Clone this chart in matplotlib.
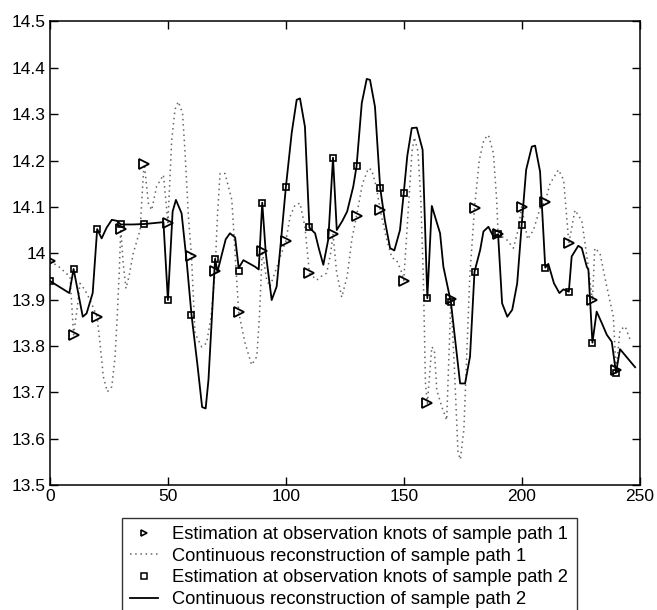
import matplotlib
matplotlib.use('Agg')
import matplotlib.pyplot as plt
import numpy as np

plt.rcParams['font.family'] = ['Liberation Sans', 'DejaVu Sans']

# knots
knots = np.arange(0, 250, 10)

# estimation at knots, sample path 1 (triangles)
est1 = [13.983, 13.824, 13.862, 14.053, 14.192, 14.066, 13.993, 13.962, 13.873,
        14.005, 14.026, 13.957, 14.042, 14.081, 14.093, 13.941, 13.676, 13.901,
        14.097, 14.041, 14.100, 14.111, 14.021, 13.898, 13.747]

# estimation at knots, sample path 2 (squares)
est2 = [13.940, 13.966, 14.052, 14.062, 14.063, 13.899, 13.867, 13.988, 13.962,
        14.109, 14.142, 14.057, 14.206, 14.188, 14.141, 14.130, 13.903, 13.894,
        13.960, 14.041, 14.061, 13.969, 13.917, 13.807, 13.742]

# continuous reconstruction, path 1 (dotted)
t1 = [0, 4, 8.5, 10, 11.5, 12.7, 14.8, 17, 20, 21.2, 22.6, 24.3, 26.2, 27.6, 28.5,
      29.4, 30, 31, 32.2, 33.5, 35.3, 38.2, 39.6, 40, 41.7, 43.1, 45.2, 48.1, 49,
      50, 51.6, 53, 54.4, 56.2, 57.2, 58.7, 60, 61.5, 64.3, 66.4, 68.3, 70, 71,
      72.1, 74.2, 77.1, 78.5, 80, 82.7, 85.5, 87.7, 88.8, 89.5, 90, 91.9, 93.3,
      95.5, 97.5, 100, 101.8, 103.9, 106, 108.1, 110, 113.1, 115, 117.3, 119, 120,
      121.5, 123.7, 126, 128, 130, 132.5, 135, 136.4, 138.5, 140, 142.8, 145, 147,
      149, 150, 152, 153.5, 154.5, 156, 157.2, 158.3, 159.2, 160, 161.9, 163, 164,
      166.1, 168.2, 170, 171.5, 173, 174, 175.5, 176.5, 178, 180, 182, 184, 185.9,
      188, 189.4, 190, 193.7, 196.5, 198.5, 200, 202.5, 205, 208, 210, 212, 215.6,
      217.8, 220, 222.6, 225.5, 228, 230, 231, 233.2, 236, 238.9, 240, 241.7,
      243.9, 246]
v1 = [13.983, 13.97, 13.949, 13.824, 13.88, 13.935, 13.921, 13.899, 13.862, 13.806,
      13.734, 13.701, 13.712, 13.777, 13.863, 13.964, 14.053, 13.98, 13.924, 13.95,
      14.0, 14.05, 14.172, 14.192, 14.108, 14.093, 14.144, 14.169, 14.12, 14.066,
      14.244, 14.31, 14.327, 14.302, 14.223, 14.079, 13.993, 13.827, 13.798, 13.806,
      13.863, 13.962, 14.08, 14.172, 14.172, 14.115, 14.0, 13.873, 13.806, 13.759,
      13.777, 13.863, 13.949, 14.005, 13.942, 13.928, 13.96, 13.99, 14.026, 14.079,
      14.104, 14.108, 14.057, 13.957, 13.942, 13.95, 13.957, 14.0, 14.042, 13.96,
      13.905, 13.95, 14.03, 14.081, 14.15, 14.183, 14.18, 14.14, 14.093, 14.029,
      13.99, 13.985, 13.96, 13.941, 14.1, 14.22, 14.25, 14.22, 14.12, 13.95, 13.72,
      13.676, 13.798, 13.79, 13.705, 13.669, 13.64, 13.901, 13.75, 13.57, 13.555,
      13.62, 13.75, 13.95, 14.097, 14.2, 14.245, 14.255, 14.216, 14.115, 14.041,
      14.029, 14.011, 14.05, 14.100, 14.03, 14.05, 14.10, 14.111, 14.15, 14.180,
      14.158, 14.021, 14.093, 14.07, 13.98, 13.898, 14.011, 14.0, 13.93, 13.863,
      13.747, 13.834, 13.842, 13.813]

# continuous reconstruction, path 2 (solid)
t2 = [0, 8.2, 10, 13.9, 15.5, 18.1, 20, 21.9, 24, 26.2, 28.3, 30, 35, 40, 48.1, 50,
      52, 53.4, 55.8, 58, 60, 62.5, 64.5, 66, 67.2, 70, 71, 73, 74.5, 76.3, 78.5,
      80, 82, 86.9, 88.5, 90, 91.5, 94, 96.1, 98, 100, 102.5, 104.6, 106, 108.1,
      110, 112.4, 114, 115.9, 118, 120, 121.6, 124, 126, 128.6, 130, 132.2, 134.3,
      135.7, 137.8, 140, 142, 144.2, 146, 148.4, 150, 151.5, 153.4, 155.5, 158,
      160, 161.9, 163.5, 165.4, 166.8, 168.5, 170, 171.8, 173.9, 176, 178.1, 180,
      182.4, 183.8, 185.9, 188, 190, 191.7, 193.9, 196, 198.1, 200, 201.9, 204.3,
      205.7, 207.8, 210, 211.3, 213.7, 216, 217.7, 220, 221.2, 224, 225.5, 227.6,
      228.3, 230, 231.8, 234, 236.1, 238.2, 240, 241.7, 248.1]
v2 = [13.940, 13.914, 13.966, 13.863, 13.870, 13.914, 14.052, 14.032, 14.055,
      14.072, 14.070, 14.062, 14.062, 14.063, 14.067, 13.899, 14.09, 14.115, 14.086,
      13.98, 13.867, 13.76, 13.668, 13.665, 13.727, 13.988, 13.96, 14.0, 14.03,
      14.043, 14.034, 13.968, 13.985, 13.971, 13.965, 14.109, 14.0, 13.899, 13.928,
      14.03, 14.142, 14.26, 14.331, 14.334, 14.273, 14.055, 14.043, 14.01, 13.975,
      14.03, 14.206, 14.050, 14.07, 14.09, 14.144, 14.188, 14.324, 14.376, 14.374,
      14.316, 14.141, 14.07, 14.011, 14.006, 14.050, 14.13, 14.21, 14.270, 14.271,
      14.223, 13.903, 14.102, 14.075, 14.043, 13.971, 13.93, 13.894, 13.813, 13.719,
      13.719, 13.777, 13.960, 14.007, 14.047, 14.057, 14.036, 14.041, 13.892,
      13.863, 13.878, 13.935, 14.061, 14.180, 14.230, 14.232, 14.176, 13.969,
      13.977, 13.935, 13.914, 13.922, 13.917, 13.993, 14.016, 14.011, 13.971,
      13.964, 13.807, 13.874, 13.849, 13.824, 13.809, 13.742, 13.793, 13.754]

ytick_vals = [13.5, 13.6, 13.7, 13.8, 13.9, 14.0, 14.1, 14.2, 14.3, 14.4, 14.5]
ytick_labels = ['13.5', '13.6', '13.7', '13.8', '13.9', '14', '14.1', '14.2',
                '14.3', '14.4', '14.5']

fig = plt.figure(figsize=(6.57, 6.10), dpi=100)
ax = fig.add_axes([0.0761, 0.205, 0.8974, 0.7598])

ax.plot(t1, v1, color='0.4', lw=1.1, linestyle=(0, (1, 2.4)))
ax.plot(t2, v2, color='black', lw=1.3)
ax.plot(knots, est1, linestyle='none', marker='>', ms=7, mfc='none',
        mec='black', mew=1.3)
ax.plot(knots, est2, linestyle='none', marker='s', ms=4.5, mfc='none',
        mec='black', mew=1.2)

ax.set_xlim(0, 250)
ax.set_ylim(13.5, 14.5)
ax.set_xticks([0, 50, 100, 150, 200, 250])
ax.set_yticks(ytick_vals)
ax.set_yticklabels(ytick_labels)
ax.tick_params(direction='in', top=True, right=True, length=6, width=1,
               labelsize=12.5, pad=3)
for s in ax.spines.values():
    s.set_linewidth(1.1)

# legend proxies
h1, = ax.plot([], [], linestyle='none', marker='>', ms=5, mfc='none', mec='black', mew=1.2)
h2, = ax.plot([], [], color='0.4', lw=1.1, linestyle=(0, (1, 2.4)))
h3, = ax.plot([], [], linestyle='none', marker='s', ms=4, mfc='none', mec='black', mew=1.1)
h4, = ax.plot([], [], color='black', lw=1.3)
fig.legend([h1, h2, h3, h4],
           ['Estimation at observation knots of sample path 1',
            'Continuous reconstruction of sample path 1',
            'Estimation at observation knots of sample path 2',
            'Continuous reconstruction of sample path 2'],
           loc='upper left', bbox_to_anchor=(0.1857, 0.1508), fontsize=13.2,
           frameon=True, fancybox=False, edgecolor='black', handlelength=1.5,
           borderpad=0.45, labelspacing=0.25, handletextpad=0.8, borderaxespad=0)

fig.savefig('out.png', dpi=100)
